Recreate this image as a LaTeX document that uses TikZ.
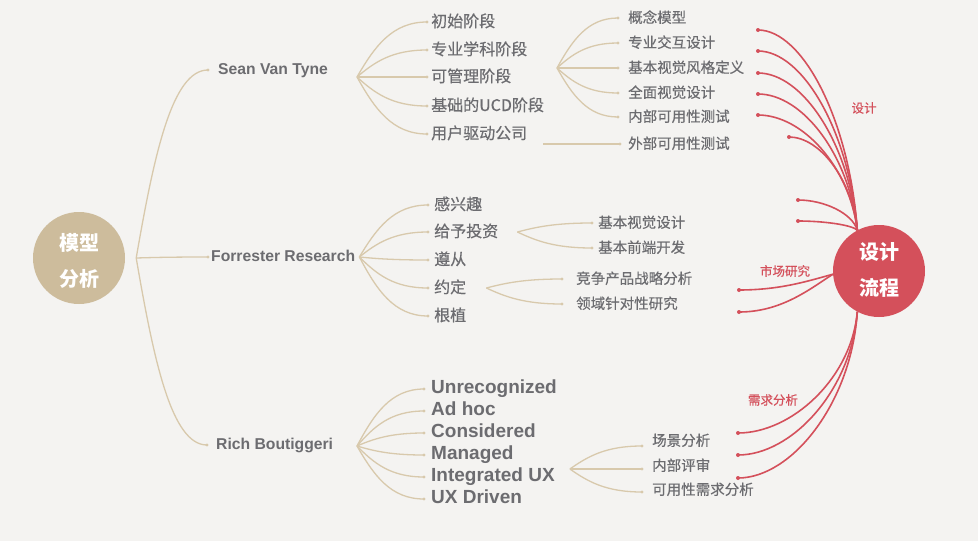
\documentclass[tikz,border=0pt]{standalone}
\usepackage{fontspec}
\setmainfont{Liberation Sans}
\newfontfamily\cjk{Noto Sans CJK SC}[FakeBold=0.5]
\newfontfamily\cjkh{Noto Sans CJK SC}
\usetikzlibrary{calc}
\definecolor{bg}{HTML}{F4F3F1}
\definecolor{tanl}{HTML}{D8C9AC}
\definecolor{tanc}{HTML}{CDBC9C}
\definecolor{rd}{HTML}{D4505B}
\definecolor{txt}{HTML}{6C6C70}
\newcommand\br[2]{\draw[brline] let \p1=(#1), \p2=(#2) in (\p1) .. controls ({\x1+0.25*(\x2-\x1)},{\y1+0.55*(\y2-\y1)}) and ({\x1+0.5*(\x2-\x1)},{\y2}) .. (\p2);\fill[tanl] (#2) circle (1.6);}
\newcommand\rbr[4]{\draw[rline] let \p1=(#1), \p2=(#2) in (\p1) .. controls ({\x1+#3*(\x2-\x1)},{\y1+#4*(\y2-\y1)}) and ({\x2+0.45*(\x1-\x2)},{\y2}) .. (\p2);\fill[rd] (#2) circle (2);}
\begin{document}
\begin{tikzpicture}[x=1pt,y=-1pt,
  brline/.style={draw=tanl,line width=1.3pt},
  rline/.style={draw=rd,line width=1.6pt},
  lone/.style={inner sep=0pt,anchor=west,text=txt,text height=11.5pt,text depth=3.3pt,font=\bfseries\fontsize{15.7}{16}\selectfont},
  ctwo/.style={inner sep=0pt,anchor=west,text=txt,text height=13pt,text depth=3pt,font=\cjk\fontsize{16}{16}\selectfont},
  cthree/.style={inner sep=0pt,anchor=west,text=txt,text height=12pt,text depth=2.5pt,font=\cjk\fontsize{14.5}{15}\selectfont},
  etwo/.style={inner sep=0pt,anchor=west,text=txt,text height=13.8pt,text depth=4pt,font=\bfseries\fontsize{19}{19}\selectfont},
  rlab/.style={inner sep=0pt,text=rd,font=\cjk\fontsize{12.5}{13}\selectfont},
  hub/.style={circle,inner sep=0pt,minimum size=92pt,draw=none},
  hubtext/.style={inner sep=0pt,text=white,align=center,font=\cjkh\bfseries\fontsize{20}{36}\selectfont}]
\fill[bg] (0,0) rectangle (978,541);
\useasboundingbox (0,0) rectangle (978,541);

% hubs
\node[hub,fill=tanc] (root) at (79,258) {};
\node[hubtext] (roott) at (79,261) {模型\\分析};
\node[hub,fill=rd] (rc) at (879,271) {};
\node[hubtext] (rct) at (879,270) {设计\\流程};

% level 1
\node[lone] (sean) at (218,70) {Sean Van Tyne};
\node[lone] (forr) at (211,257) {Forrester Research};
\node[lone] (rich) at (216,445) {Rich Boutiggeri};
\coordinate (r0) at ([xshift=11]root.east);
\br{r0}{[xshift=-10]sean.west}
\br{r0}{[xshift=-3]forr.west}
\br{r0}{[xshift=-9]rich.west}

% Sean level 2
\node[ctwo] (a1) at (431,22) {初始阶段};
\node[ctwo] (a2) at (431,50) {专业学科阶段};
\node[ctwo] (a3) at (431,77) {可管理阶段};
\node[ctwo] (a4) at (431,106) {基础的UCD阶段};
\node[ctwo] (a5) at (431,134) {用户驱动公司};
\coordinate (s0) at (357,77);
\foreach \nm in {a1,a2,a3,a4,a5} {\br{s0}{[xshift=-4]\nm.west}}

% Sean level 3
\node[cthree] (b1) at (628,18) {概念模型};
\node[cthree] (b2) at (628,43) {专业交互设计};
\node[cthree] (b3) at (628,68) {基本视觉风格定义};
\node[cthree] (b4) at (628,93) {全面视觉设计};
\node[cthree] (b5) at (628,117) {内部可用性测试};
\node[cthree] (b6) at (628,144) {外部可用性测试};
\coordinate (s1) at (557,68);
\foreach \nm in {b1,b2,b3,b4,b5} {\br{s1}{[xshift=-10]\nm.west}}
\coordinate (s2) at (543,144);
\draw[brline] (s2) -- ([xshift=-8]b6.west);
\fill[tanl] ([xshift=-8]b6.west) circle (1.6);

% Forrester level 2
\node[ctwo] (f1) at (434,205) {感兴趣};
\node[ctwo] (f2) at (434,232) {给予投资};
\node[ctwo] (f3) at (434,260) {遵从};
\node[ctwo] (f4) at (434,288) {约定};
\node[ctwo] (f5) at (434,316) {根植};
\coordinate (f0) at ([xshift=4]forr.east);
\foreach \nm in {f1,f2,f3,f4,f5} {\br{f0}{[xshift=-6]\nm.west}}

% Forrester level 3
\node[cthree] (g1) at (598,223) {基本视觉设计};
\node[cthree] (g2) at (598,248) {基本前端开发};
\node[cthree] (h1) at (576,279) {竞争产品战略分析};
\node[cthree] (h2) at (576,304) {领域针对性研究};
\coordinate (g0) at ([xshift=19]f2.east);
\br{g0}{[xshift=-6]g1.west}
\br{g0}{[xshift=-6]g2.west}
\coordinate (h0) at ([xshift=20]f4.east);
\br{h0}{[xshift=-14]h1.west}
\br{h0}{[xshift=-14]h2.west}

% Rich level 2
\node[etwo] (e1) at (431,389) {Unrecognized};
\node[etwo] (e2) at (431,411) {Ad hoc};
\node[etwo] (e3) at (431,433) {Considered};
\node[etwo] (e4) at (431,455) {Managed};
\node[etwo] (e5) at (431,477) {Integrated UX};
\node[etwo] (e6) at (431,499) {UX Driven};
\coordinate (e0) at (357,446);
\foreach \nm in {e1,e2,e3,e4,e5,e6} {\br{e0}{[xshift=-7]\nm.west}}

% Rich level 3
\node[cthree] (k1) at (652,441) {场景分析};
\node[cthree] (k2) at (652,466) {内部评审};
\node[cthree] (k3) at (652,490) {可用性需求分析};
\coordinate (k0) at ([xshift=15,yshift=8]e5.east);
\br{k0}{[xshift=-10,yshift=-5]k1.west}
\br{k0}{[xshift=-10,yshift=-3]k2.west}
\br{k0}{[xshift=-10,yshift=-2]k3.west}

% red connectors: design
\coordinate (d1) at (758,30);
\coordinate (d2) at (758,51);
\coordinate (d3) at (758,73);
\coordinate (d4) at (758,94);
\coordinate (d5) at (758,115);
\coordinate (d6) at (789,137);
\coordinate (d7) at (798,200);
\coordinate (d8) at (798,221);
\foreach \nm in {d1,d2,d3,d4,d5,d6,d7,d8} {\rbr{rc.118}{\nm}{0.08}{0.55}}
\node[rlab] (ldes) at (864,108) {设计};

% red connectors: market
\coordinate (m1) at (739,290);
\coordinate (m2) at (739,312);
\rbr{rc.184}{m1}{0.25}{0.4}
\rbr{rc.184}{m2}{0.25}{0.4}
\node[rlab] (lmkt) at (785,271) {市场研究};

% red connectors: requirements
\coordinate (q1) at (738,433);
\coordinate (q2) at (738,455);
\coordinate (q3) at (738,478);
\foreach \nm in {q1,q2,q3} {\rbr{rc.-118}{\nm}{0.05}{0.55}}
\node[rlab] (lreq) at (773,400) {需求分析};
\end{tikzpicture}
\end{document}
